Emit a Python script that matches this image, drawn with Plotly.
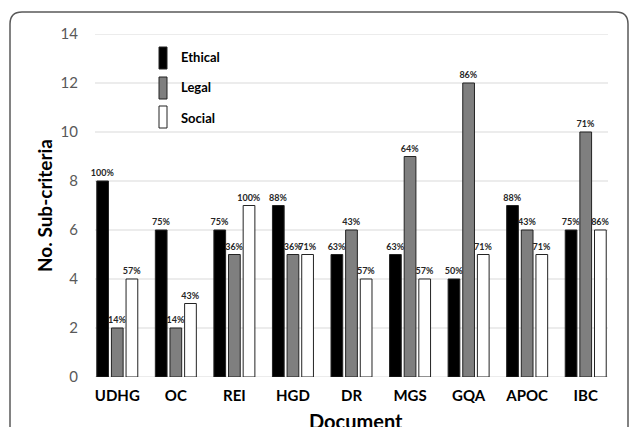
import plotly.graph_objects as go

# Documents and sub-criteria counts per dimension
documents = ["UDHG", "OC", "REI", "HGD", "DR", "MGS", "GQA", "APOC", "IBC"]
ethical = [8, 6, 6, 7, 5, 5, 4, 7, 6]
legal = [2, 2, 5, 5, 6, 9, 12, 6, 10]
social = [4, 3, 7, 5, 4, 4, 5, 5, 6]

ethical_pct = ["100%", "75%", "75%", "88%", "63%", "63%", "50%", "88%", "75%"]
legal_pct = ["14%", "14%", "36%", "36%", "43%", "64%", "86%", "43%", "71%"]
social_pct = ["57%", "43%", "100%", "71%", "57%", "57%", "71%", "71%", "86%"]

series_names = ["Ethical", "Legal", "Social"]
y_ticks = [0, 2, 4, 6, 8, 10, 12, 14]

W, H = 630, 427
L, R, T, B = 88, 15, 34, 50
PW, PH = W - L - R, H - T - B


def px_x(p):
    return (p - L) / PW


def px_y(p):
    return (H - B - p) / PH


fills = ["#000000", "#7f7f7f", "#ffffff"]
outline = "rgb(35,35,35)"
label_font = dict(family="Lato", size=9, color="#262626")

fig = go.Figure()
for name, vals, pcts, col in zip(series_names, [ethical, legal, social],
                                 [ethical_pct, legal_pct, social_pct], fills):
    fig.add_trace(go.Bar(
        x=documents, y=vals, name=name, text=pcts,
        textposition="outside", constraintext="none", cliponaxis=False,
        textfont=dict(family="Lato", size=9, color="#262626", weight="bold"),
        marker=dict(color=col, line=dict(color=outline, width=1)),
        showlegend=False,
    ))

shapes = []
# horizontal gridlines
for v in y_ticks:
    shapes.append(dict(type="line", xref="paper", yref="y",
                       x0=px_x(95), x1=px_x(608), y0=v, y1=v,
                       line=dict(color="#d9d9d9", width=1), layer="below"))

# rounded outer frame
x0, x1 = px_x(10), px_x(628)
y0, y1 = px_y(445), px_y(12)
rx, ry = 12 / PW, 12 / PH
frame = (f"M {x0},{y0} L {x0},{y1 - ry} Q {x0},{y1} {x0 + rx},{y1} "
         f"L {x1 - rx},{y1} Q {x1},{y1} {x1},{y1 - ry} L {x1},{y0}")
shapes.append(dict(type="path", xref="paper", yref="paper", path=frame,
                   line=dict(color="#595959", width=1.5)))

annotations = []
# custom legend with tall swatches
legend_rows = [(47, 69, 57), (77, 99, 87), (106, 128, 118)]
for name, col, (top, bot, mid) in zip(series_names, fills, legend_rows):
    shapes.append(dict(type="rect", xref="paper", yref="paper",
                       x0=px_x(159), x1=px_x(167), y0=px_y(bot), y1=px_y(top),
                       fillcolor=col, line=dict(color=outline, width=1)))
    annotations.append(dict(xref="paper", yref="paper", x=px_x(179), y=px_y(mid),
                            text=f"<b>{name}</b>", showarrow=False,
                            xanchor="left", yanchor="middle",
                            font=dict(family="Lato", size=13, color="#000")))

# axis titles
annotations.append(dict(xref="paper", yref="paper", x=px_x(44), y=px_y(206),
                        text="<b>No. Sub-criteria</b>", textangle=-90,
                        showarrow=False, xanchor="center", yanchor="middle",
                        font=dict(family="Lato", size=19, color="#000")))
annotations.append(dict(xref="paper", yref="paper", x=px_x(356), y=px_y(421),
                        text="<b>Document</b>", showarrow=False,
                        xanchor="center", yanchor="middle",
                        font=dict(family="Lato", size=20, color="#000")))

fig.update_layout(
    width=W, height=H,
    margin=dict(l=L, r=R, t=T, b=B, pad=0),
    paper_bgcolor="white", plot_bgcolor="white",
    barmode="group", bargap=0.25, bargroupgap=0.2,
    shapes=shapes, annotations=annotations,
    xaxis=dict(showgrid=False, showline=False, zeroline=False, ticks="",
               ticklabelstandoff=8,
               tickfont=dict(family="Lato", size=15, color="#000", weight="bold")),
    yaxis=dict(range=[0, 14], tickvals=y_ticks, showgrid=False, zeroline=False,
               showline=False, ticks="", ticklabelstandoff=9,
               tickfont=dict(family="Lato", size=15, color="#595959")),
)

fig.write_html("out.html")
